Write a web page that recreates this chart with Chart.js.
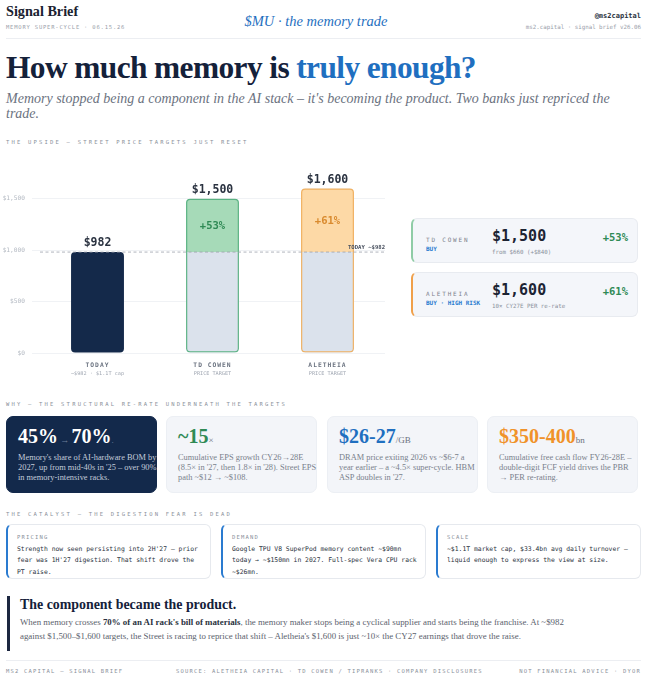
<!DOCTYPE html>
<html>
<head>
<meta charset="utf-8">
<script src="https://cdn.jsdelivr.net/npm/chart.js@4.4.1/dist/chart.umd.min.js"></script>
<style>
body{margin:0;width:647px;height:680px;background:#fff;position:relative;overflow:hidden;font-family:"Liberation Serif",serif;color:#14213a}
.a{position:absolute}
.mono{font-family:"DejaVu Sans Mono",monospace}
.sec{font-family:"DejaVu Sans Mono",monospace;font-size:5.5px;letter-spacing:2.2px;color:#8a909a;left:6px}
.pt{left:411px;width:227px;height:45px;background:#f4f6fa;border:1px solid #e8ebf0;border-radius:6px;box-sizing:border-box}
.pt .firm{position:absolute;left:13px;top:17px;font-size:6px;letter-spacing:1.8px;color:#7d838d}
.pt .rat{position:absolute;left:13px;top:26px;font-size:6px;font-weight:bold;color:#2a7bd0}
.pt .big{position:absolute;left:79px;top:8px;font-size:15px;font-weight:600;color:#1c2433}
.pt .sm{position:absolute;left:79px;top:30px;font-size:5.8px;color:#8a909a}
.pt .pct{position:absolute;right:9px;top:12px;font-size:10.5px;font-weight:bold;color:#2f8a55}
.why{top:416px;width:151px;height:77px;border-radius:7px;background:#f3f5f9;border:1px solid #eceff4;box-sizing:border-box}
.why .n{position:absolute;left:11px;top:8px;font-size:20px;font-weight:bold;white-space:nowrap}
.why .n small{font-size:9px;font-weight:normal;color:#6b7280}
.why .t{position:absolute;left:11px;top:36px;width:140px;font-size:8.4px;line-height:10.2px;color:#7a818c}
.cat{top:524px;width:205px;height:55px;background:#fff;border:1px solid #e6e9ee;border-left:2px solid #2a7bd0;border-radius:6px;box-sizing:border-box}
.cat .h{position:absolute;left:9px;top:9px;font-size:5.5px;letter-spacing:1.2px;color:#8a909a}
.cat .b{position:absolute;left:9px;top:19px;width:188px;font-size:6.4px;line-height:11.3px;color:#2a3240}
</style>
</head>
<body>
<div class="a" style="left:6px;top:3px;font-size:14.2px;font-weight:bold;color:#1a2230">Signal Brief</div>
<div class="a mono" style="left:6px;top:24px;font-size:5.5px;letter-spacing:0.8px;color:#9aa0aa">MEMORY SUPER-CYCLE · 06.15.26</div>
<div class="a" style="left:0;width:632px;text-align:center;top:13px;font-size:14.5px;font-style:italic;color:#1f6fc0">$MU · the memory trade</div>
<div class="a mono" style="right:6px;top:12px;font-size:7px;font-weight:bold;color:#2a3240">@ms2capital</div>
<div class="a mono" style="right:6px;top:24px;font-size:5.8px;color:#9aa0aa">ms2.capital · signal brief v26.06</div>
<div class="a" style="left:6px;top:38px;width:635px;height:1px;background:#eceef2"></div>

<div class="a" style="left:6px;top:50px;font-size:31.4px;font-weight:bold;letter-spacing:-0.6px;white-space:nowrap">How much memory is <span style="color:#1f6fc0">truly enough?</span></div>
<div class="a" style="left:6px;top:91px;width:632px;font-size:14px;line-height:15px;font-style:italic;color:#6b7280">Memory stopped being a component in the AI stack – it's becoming the product. Two banks just repriced the trade.</div>

<div class="a sec" style="top:139px">THE UPSIDE — STREET PRICE TARGETS JUST RESET</div>
<div class="a" style="left:0;top:150px;width:395px;height:235px"><canvas id="c"></canvas></div>

<div class="a pt mono" style="top:218px;border-left:2px solid #8fcca6">
<div class="firm">TD COWEN</div><div class="rat">BUY</div>
<div class="big">$1,500</div><div class="sm">from $660  (+$840)</div><div class="pct">+53%</div></div>
<div class="a pt mono" style="top:272px;border-left:2px solid #f0a04a">
<div class="firm">ALETHEIA</div><div class="rat">BUY · HIGH RISK</div>
<div class="big">$1,600</div><div class="sm">10× CY27E PER re-rate</div><div class="pct">+61%</div></div>

<div class="a sec" style="top:401px">WHY — THE STRUCTURAL RE-RATE UNDERNEATH THE TARGETS</div>
<div class="a why" style="left:6px;background:#13294b;border-color:#13294b">
<div class="n" style="color:#fff">45%<small style="color:#6d7f9a"> → </small>70%<small style="color:#6d7f9a">.</small></div>
<div class="t" style="color:#c3ccda">Memory's share of AI-hardware BOM by 2027, up from mid-40s in '25 – over 90% in memory-intensive racks.</div></div>
<div class="a why" style="left:166px">
<div class="n" style="color:#2f8a55">~15<small>×</small></div>
<div class="t">Cumulative EPS growth CY26→28E (8.5× in '27, then 1.8× in '28). Street EPS path ~$12 → ~$108.</div></div>
<div class="a why" style="left:327px">
<div class="n" style="color:#1f6fc0">$26-27<small>/GB</small></div>
<div class="t">DRAM price exiting 2026 vs ~$6-7 a year earlier – a ~4.5× super-cycle. HBM ASP doubles in '27.</div></div>
<div class="a why" style="left:487px">
<div class="n" style="color:#f0922a">$350-400<small>bn</small></div>
<div class="t">Cumulative free cash flow FY26-28E – double-digit FCF yield drives the PBR → PER re-rating.</div></div>

<div class="a sec" style="top:511px">THE CATALYST — THE DIGESTION FEAR IS DEAD</div>
<div class="a cat mono" style="left:6px"><div class="h">PRICING</div><div class="b">Strength now seen persisting into 2H'27 – prior fear was 1H'27 digestion. That shift drove the PT raise.</div></div>
<div class="a cat mono" style="left:221px"><div class="h">DEMAND</div><div class="b">Google TPU V8 SuperPod memory content ~$90mn today → ~$150mn in 2027. Full-spec Vera CPU rack ~$26mn.</div></div>
<div class="a cat mono" style="left:436px"><div class="h">SCALE</div><div class="b">~$1.1T market cap, $33.4bn avg daily turnover – liquid enough to express the view at size.</div></div>

<div class="a" style="left:7px;top:596px;width:2.5px;height:55px;background:#1c2740"></div>
<div class="a" style="left:20px;top:597px;font-size:13.9px;font-weight:bold;color:#14213a">The component became the product.</div>
<div class="a" style="left:20px;top:615px;width:560px;font-size:8.87px;line-height:14px;color:#5b626d">When memory crosses <b style="color:#2a3240">70% of an AI rack's bill of materials</b>, the memory maker stops being a cyclical supplier and starts being the franchise. At ~$982 against $1,500–$1,600 targets, the Street is racing to reprice that shift – Aletheia's $1,600 is just ~10× the CY27 earnings that drove the raise.</div>

<div class="a" style="left:6px;top:660px;width:635px;height:1px;background:#eceef2"></div>
<div class="a sec" style="top:668px;letter-spacing:1.2px">MS2 CAPITAL — SIGNAL BRIEF</div>
<div class="a sec" style="top:668px;left:176px;letter-spacing:1.2px">SOURCE: ALETHEIA CAPITAL · TD COWEN / TIPRANKS · COMPANY DISCLOSURES</div>
<div class="a sec" style="top:668px;left:auto;right:6px;letter-spacing:1.2px">NOT FINANCIAL ADVICE · DYOR</div>

<script>
const categories=["TODAY","TD COWEN","ALETHEIA"];
const subLabels=["~$982 · $1.1T cap","PRICE TARGET","PRICE TARGET"];
const prices=[982,1500,1600];
const todayPrice=982;
const upside=["","+53%","+61%"];
const yTicks=[0,500,1000,1500];

const fills=["#14294a","#a6dab8","#fdd9a6"];
const edges=["#14294a","#5bb283","#f0b060"];
const pctColors=["#fff","#2f8a55","#d98a2e"];
const MONO='"DejaVu Sans Mono", monospace';

const todayBar=prices.map((v,i)=>i==0?[0,v]:null);
const targetFull=prices.map((v,i)=>i==0?null:[0,v]);
const targetUp=prices.map((v,i)=>i==0?null:[todayPrice,v]);

const labelPlugin={
id:"labels",
afterDatasetsDraw(chart){
const ctx=chart.ctx,x=chart.scales.x,y=chart.scales.y,a=chart.chartArea;
ctx.save();
// today reference line
let ty=y.getPixelForValue(todayPrice);
ctx.setLineDash([3,2.5]);ctx.strokeStyle="#9aa0aa";ctx.lineWidth=0.8;
ctx.beginPath();ctx.moveTo(a.left,ty);ctx.lineTo(a.right,ty);ctx.stroke();
ctx.setLineDash([]);
ctx.font="bold 5.6px "+MONO;ctx.fillStyle="#4a5260";ctx.textAlign="right";ctx.textBaseline="bottom";
ctx.fillText("TODAY ~$"+todayPrice,a.right,ty-2);
categories.forEach((c,i)=>{
let cx=x.getPixelForValue(i);
ctx.textAlign="center";
ctx.textBaseline="bottom";
ctx.font="600 11.5px "+MONO;ctx.fillStyle="#2a3240";
ctx.fillText("$"+prices[i].toLocaleString("en-US"),cx,y.getPixelForValue(prices[i])-3);
if(upside[i]){
ctx.textBaseline="middle";
ctx.font="600 10.5px "+MONO;ctx.fillStyle=pctColors[i];
ctx.fillText(upside[i],cx,y.getPixelForValue(prices[i])+(ty-y.getPixelForValue(prices[i]))*0.55-2);
}
ctx.textBaseline="middle";
ctx.font="bold 6.3px "+MONO;ctx.fillStyle="#6b7380";
ctx.letterSpacing="1px";
ctx.fillText(c,cx,a.bottom+12);
ctx.letterSpacing="0px";
ctx.font="5.2px "+MONO;ctx.fillStyle="#a0a7b2";
ctx.fillText(subLabels[i],cx,a.bottom+21);
});
ctx.restore();
}
};

new Chart(document.getElementById("c"),{
type:"bar",
data:{labels:categories,datasets:[
{data:todayBar,backgroundColor:fills[0],borderRadius:4,borderSkipped:false,grouped:false,order:0},
{data:targetFull,backgroundColor:"transparent",borderColor:edges,borderWidth:1.2,borderRadius:4,borderSkipped:false,grouped:false,order:1},
{data:targetUp,backgroundColor:fills,borderRadius:{topLeft:4,topRight:4,bottomLeft:0,bottomRight:0},borderSkipped:false,grouped:false,order:2},
{data:targetFull,backgroundColor:"#dbe2ec",borderRadius:4,borderSkipped:false,grouped:false,order:3}
]},
options:{
responsive:true,maintainAspectRatio:false,animation:false,
layout:{padding:{top:18,bottom:24,right:10}},
datasets:{bar:{barPercentage:0.46,categoryPercentage:1}},
plugins:{legend:{display:false},tooltip:{enabled:false}},
scales:{
x:{grid:{display:false},border:{display:false},ticks:{display:false}},
y:{min:0,max:1800,border:{display:false},
afterFit(s){s.width=40;},
afterBuildTicks(s){s.ticks=yTicks.map(v=>({value:v}));},
grid:{color:"#f0f2f5",lineWidth:1},
ticks:{padding:7,color:"#b3b9c2",font:{family:MONO,size:6.2},callback:v=>"$"+v.toLocaleString("en-US")}}
}
},
plugins:[labelPlugin]
});
</script>
</body>
</html>
